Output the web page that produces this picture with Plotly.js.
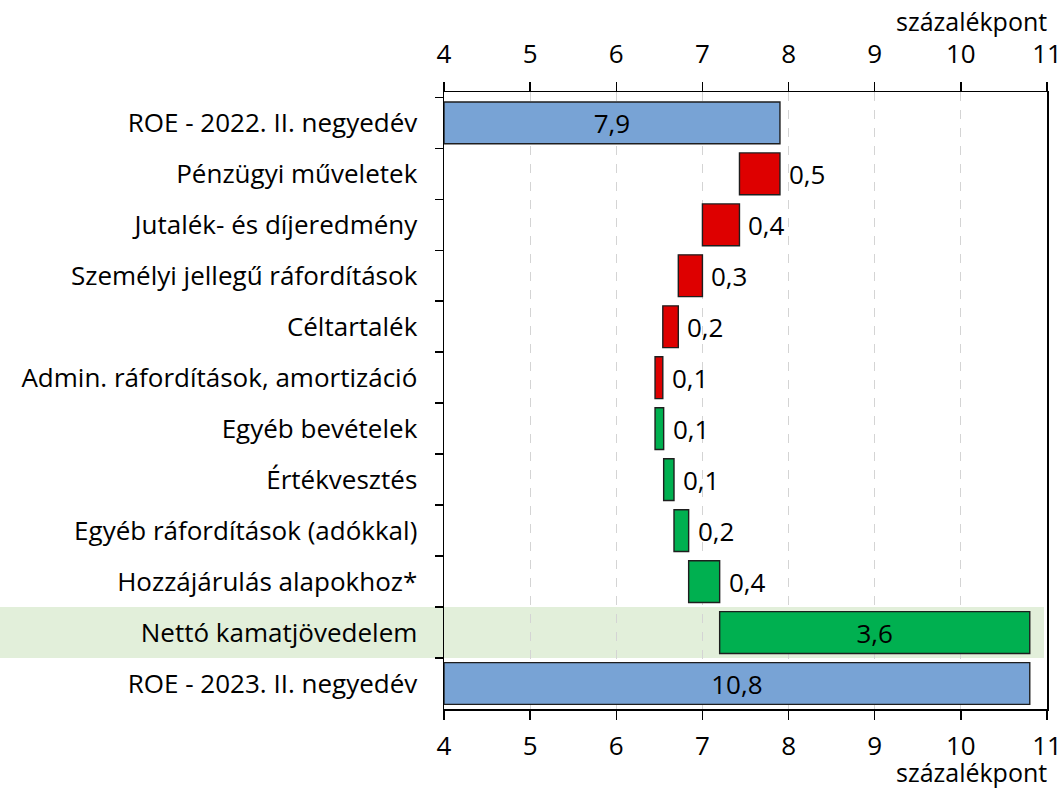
<!DOCTYPE html>
<html>
<head>
<meta charset="utf-8">
<script src="https://cdn.plot.ly/plotly-3.0.1.min.js"></script>
<style>html,body{margin:0;padding:0;background:#fff;}#chart{width:1063px;height:790px;}</style>
</head>
<body>
<div id="chart"></div>
<script>
// Categories, top to bottom
const categories = [
  "ROE - 2022. II. negyedév",
  "Pénzügyi műveletek",
  "Jutalék- és díjeredmény",
  "Személyi jellegű ráfordítások",
  "Céltartalék",
  "Admin. ráfordítások, amortizáció",
  "Egyéb bevételek",
  "Értékvesztés",
  "Egyéb ráfordítások (adókkal)",
  "Hozzájárulás alapokhoz*",
  "Nettó kamatjövedelem",
  "ROE - 2023. II. negyedév"
];
// bar start and end values (percentage points)
const barStart = [4.0, 7.43, 7.0, 6.72, 6.54, 6.45, 6.45, 6.55, 6.67, 6.84, 7.2, 4.0];
const barEnd   = [7.9, 7.9, 7.43, 7.0, 6.72, 6.54, 6.55, 6.67, 6.84, 7.2, 10.8, 10.8];
const valueLabels = ["7,9","0,5","0,4","0,3","0,2","0,1","0,1","0,1","0,2","0,4","3,6","10,8"];
const barKind = ["total","down","down","down","down","down","up","up","up","up","up","total"];
const highlighted = "Nettó kamatjövedelem";
const xTicks = [4,5,6,7,8,9,10,11];
const axisUnit = "százalékpont";

const colorOf = {total:"#78A3D5", down:"#DE0000", up:"#00B050"};
const FONT = "'Open Sans', 'Noto Sans', sans-serif";
const FS = 26;

const insideIdx = categories.map((c,i)=> (barKind[i]==="total" || c===highlighted));

const barTrace = {
  type: "bar",
  orientation: "h",
  y: categories,
  x: barEnd.map((e,i)=> e - barStart[i]),
  base: barStart,
  marker: {color: barKind.map(k=>colorOf[k]), line:{color:"#1e1e1e", width:1.4}},
  text: valueLabels.map((t,i)=> insideIdx[i] ? t : ""),
  textposition: "inside",
  insidetextanchor: "middle",
  constraintext: "none",
  textfont: {family: FONT, size: FS, color:"#000"},
  hoverinfo: "skip",
  xaxis: "x", yaxis: "y"
};
const dummyTop = {
  type:"scatter", mode:"none", x:[4], y:[categories[0]], xaxis:"x2", yaxis:"y", hoverinfo:"skip", showlegend:false
};

const annotations = [];
categories.forEach((c,i)=>{
  if(!insideIdx[i]){
    annotations.push({x: barEnd[i], y: c, xref:"x", yref:"y", text: valueLabels[i], showarrow:false,
      xanchor:"left", yanchor:"middle", xshift: 7, font:{family:FONT, size:FS, color:"#000"}});
  }
});
annotations.push({xref:"paper", yref:"paper", x:1, y:1, xanchor:"right", yanchor:"middle", yshift:71, xshift:1,
  text: axisUnit, showarrow:false, borderpad:0, font:{family:FONT, size:25, color:"#000"}});
annotations.push({xref:"paper", yref:"paper", x:1, y:0, xanchor:"right", yanchor:"bottom", yshift:-81, xshift:1,
  text: axisUnit, showarrow:false, borderpad:0, font:{family:FONT, size:25, color:"#000"}});

const hi = categories.indexOf(highlighted);
const shapes = [{type:"rect", xref:"paper", yref:"y", x0:-1, x1:0.995, y0: hi-0.5, y1: hi+0.5,
  fillcolor:"#E2EFDA", line:{width:0}, layer:"below"}];

const layout = {
  width:1063, height:790,
  margin:{l:444, r:16, t:92, b:81},
  paper_bgcolor:"#fff", plot_bgcolor:"rgba(0,0,0,0)",
  showlegend:false,
  bargap:0.18,
  font:{family:FONT, size:FS, color:"#000"},
  xaxis:{range:[4,11], tickvals:xTicks, ticktext:xTicks.map(String), showgrid:true, gridcolor:"#d4d4d4", griddash:"dash", gridwidth:1,
    zeroline:false, showline:true, linecolor:"#000", linewidth:1.5, ticks:"outside", ticklen:9, tickcolor:"#000", tickwidth:1.5,
    ticklabelstandoff:4, tickfont:{family:FONT, size:FS, color:"#000"}, fixedrange:true},
  xaxis2:{range:[4,11], matches:"x", overlaying:"x", side:"top", tickvals:xTicks, ticktext:xTicks.map(String), showgrid:false, zeroline:false,
    showline:true, linecolor:"#000", linewidth:1.5, ticks:"outside", ticklen:9, tickcolor:"#000", tickwidth:1.5,
    ticklabelstandoff:8, tickfont:{family:FONT, size:FS, color:"#000"}},
  yaxis:{type:"category", categoryorder:"array", categoryarray:categories, autorange:"reversed",
    showline:true, mirror:true, linecolor:"#000", linewidth:1.5, ticks:"outside", tickson:"boundaries", ticklen:8, tickcolor:"#000", tickwidth:1.5,
    showgrid:false, zeroline:false, ticklabelstandoff:20, tickfont:{family:FONT, size:FS, color:"#000"}},
  shapes: shapes,
  annotations: annotations
};

Plotly.newPlot("chart", [barTrace, dummyTop], layout, {staticPlot:true, displayModeBar:false});
</script>
</body>
</html>
